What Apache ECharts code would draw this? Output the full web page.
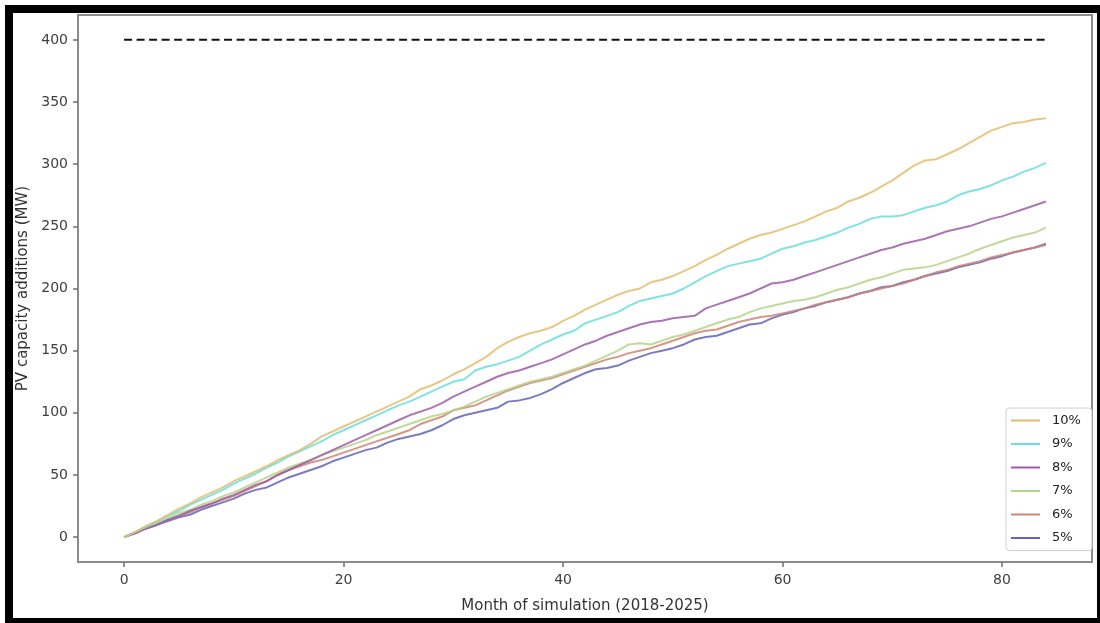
<!DOCTYPE html>
<html>
<head>
<meta charset="utf-8">
<script src="https://cdn.jsdelivr.net/npm/echarts@6/dist/echarts.min.js"></script>
<style>
  html, body { margin: 0; padding: 0; background: #fff; }
  #chart { position: absolute; left: 0; top: 0; width: 1100px; height: 623px; }
  #frame { position: absolute; left: 5px; top: 5px; width: 1095px; height: 618px; box-sizing: border-box;
           border-style: solid; border-color: #000; border-width: 8px 3px 5px 8px; pointer-events: none; z-index: 5; }
</style>
</head>
<body>
<div id="chart"></div>
<div id="frame"></div>
<script>
// ---- data ----
const seriesNames = ['10%', '9%', '8%', '7%', '6%', '5%'];
const seriesColors = ['#e3bd6f', '#6adede', '#9c5ea6', '#b5d488', '#cf8474', '#6464b6'];
const xTicks = [0, 20, 40, 60, 80];
const yTicks = [0, 50, 100, 150, 200, 250, 300, 350, 400];
const targetLine = 400;

const s10 = [0,4,9,13,18,23,27,32,36,40,45,49,53,57,62,66,70,75,81,85,89,93,97,101,105,109,113,119,122,126,
  131,135,140,145,152,157,161,164,166,169,174,178,183,187,191,195,198,200,205,207,210,214,218,223,227,232,236,240,243,245,
  248,251,254,258,262,265,270,273,277,282,287,293,299,303,304,308,312,317,322,327,330,333,334,336,337];
const s9 = [0,4,8,12,17,21,26,30,34,38,43,47,51,56,60,65,69,73,77,82,86,90,94,98,102,106,109,113,117,121,
  125,127,134,137,139,142,145,150,155,159,163,166,172,175,178,181,186,190,192,194,196,200,205,210,214,218,220,222,224,228,
  232,234,237,239,242,245,249,252,256,258,258,259,262,265,267,270,275,278,280,283,287,290,294,297,301];
const s8 = [0,3,7,10,14,17,21,24,27,31,34,38,42,45,50,54,58,62,66,70,74,78,82,86,90,94,98,101,104,108,
  113,117,121,125,129,132,134,137,140,143,147,151,155,158,162,165,168,171,173,174,176,177,178,184,187,190,193,196,200,204,
  205,207,210,213,216,219,222,225,228,231,233,236,238,240,243,246,248,250,253,256,258,261,264,267,270];
const s7 = [0,4,8,11,15,19,22,26,29,33,36,40,44,48,52,56,59,62,66,69,72,75,78,82,85,88,91,94,97,99,
  102,105,109,113,116,119,122,125,127,129,132,135,138,142,146,150,155,156,155,158,161,163,166,169,172,175,177,181,184,186,
  188,190,191,193,196,199,201,204,207,209,212,215,216,217,219,222,225,228,232,235,238,241,243,245,249];
const s6 = [0,4,7,10,14,17,20,24,27,30,33,37,41,45,50,54,57,60,62,65,68,71,74,77,80,83,86,91,94,97,
  102,104,106,110,114,118,121,124,126,128,131,134,137,140,143,145,148,150,152,155,158,161,164,166,167,170,173,175,177,178,
  180,182,184,187,189,191,193,196,198,200,202,204,207,210,213,215,218,220,222,225,227,229,231,233,235];
const s5 = [0,3,7,10,13,16,18,22,25,28,31,35,38,40,44,48,51,54,57,61,64,67,70,72,76,79,81,83,86,90,
  95,98,100,102,104,109,110,112,115,119,124,128,132,135,136,138,142,145,148,150,152,155,159,161,162,165,168,171,172,176,
  179,181,184,186,189,191,193,196,198,201,202,205,207,210,212,214,217,219,221,224,226,229,231,233,236];
const seriesValues = [s10, s9, s8, s7, s6, s5];

// ---- chart ----
const font = 'DejaVu Sans';
const chart = echarts.init(document.getElementById('chart'), null, { renderer: 'canvas' });

const lineSeries = seriesNames.map((name, i) => ({
  name: name,
  type: 'line',
  data: seriesValues[i].map((v, m) => [m, v]),
  showSymbol: false,
  symbol: 'none',
  lineStyle: { color: seriesColors[i], width: 2, opacity: 0.85 },
  itemStyle: { color: seriesColors[i] },
  z: 10 - i,
  animation: false
}));

lineSeries.push({
  name: 'target',
  type: 'line',
  data: [[0, targetLine], [84, targetLine]],
  showSymbol: false,
  symbol: 'none',
  lineStyle: { color: '#111', width: 2, type: [8, 4.5] },
  animation: false
});

const spine = '#8c8c8c';
chart.setOption({
  animation: false,
  backgroundColor: 'transparent',
  textStyle: { fontFamily: font },
  grid: {
    left: 78, right: 8, top: 15, bottom: 61,
    show: true, borderColor: spine, borderWidth: 2, backgroundColor: 'transparent'
  },
  xAxis: {
    type: 'value', min: -4.2, max: 88.2,
    name: 'Month of simulation (2018-2025)',
    nameLocation: 'middle', nameGap: 37,
    nameTextStyle: { fontFamily: font, fontSize: 15, color: '#333' },
    axisLine: { show: true, onZero: false, lineStyle: { color: spine, width: 2 } },
    splitLine: { show: false },
    axisTick: { show: true, customValues: xTicks, length: 5, lineStyle: { color: '#6f6f6f', width: 1.5 } },
    axisLabel: { customValues: xTicks, margin: 11, fontFamily: font, fontSize: 14, color: '#404040' }
  },
  yAxis: {
    type: 'value', min: -20, max: 420,
    name: 'PV capacity additions (MW)',
    nameLocation: 'middle', nameGap: 46,
    nameTextStyle: { fontFamily: font, fontSize: 15, color: '#333' },
    axisLine: { show: true, onZero: false, lineStyle: { color: spine, width: 2 } },
    splitLine: { show: false },
    axisTick: { show: true, customValues: yTicks, length: 5, lineStyle: { color: '#6f6f6f', width: 1.5 } },
    axisLabel: { customValues: yTicks, margin: 10, fontFamily: font, fontSize: 14, color: '#404040' }
  },
  legend: {
    data: seriesNames,
    orient: 'vertical',
    left: 1006, top: 408,
    itemWidth: 29, itemHeight: 14, itemGap: 10.5,
    padding: [6, 11, 6, 5],
    backgroundColor: '#fff',
    borderColor: '#d0d0d0', borderWidth: 1, borderRadius: 3,
    textStyle: { fontFamily: font, fontSize: 13, color: '#222', padding: [0, 0, 0, 7] },
    icon: 'path://M0,6 L29,6 L29,8 L0,8 Z',
    itemStyle: { opacity: 1 }
  },
  series: lineSeries
});
</script>
</body>
</html>
